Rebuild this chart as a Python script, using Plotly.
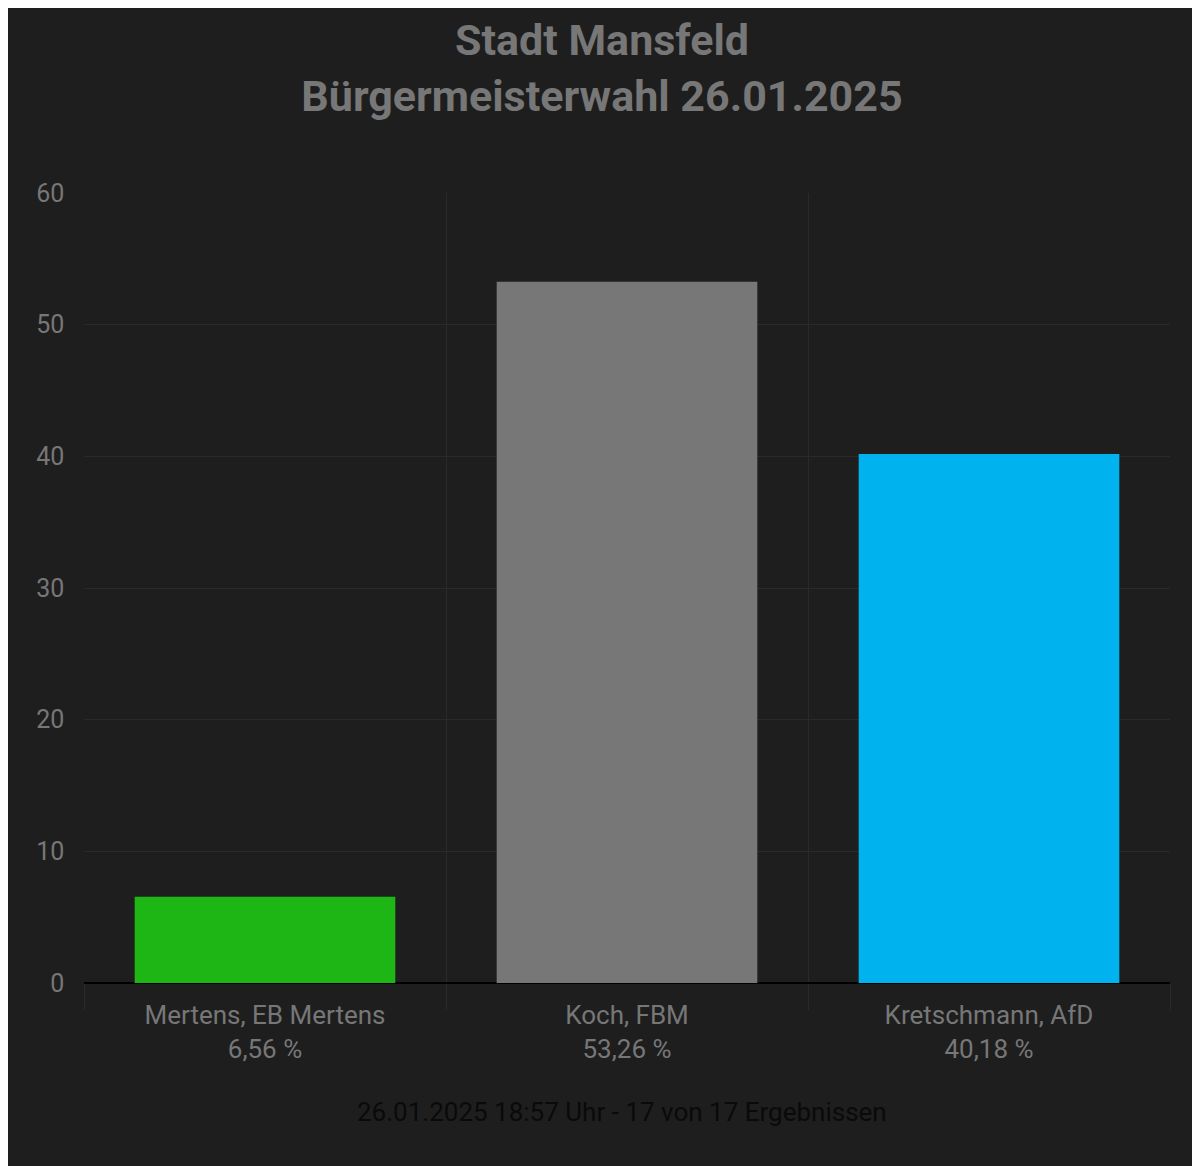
import plotly.graph_objects as go

candidates = ["Mertens, EB Mertens", "Koch, FBM", "Kretschmann, AfD"]
shares = [6.56, 53.26, 40.18]
colors = ["#1db614", "#777777", "#00b2ee"]

labels = [f"{c}<br>{str(v).replace('.', ',')} %" for c, v in zip(candidates, shares)]

fig = go.Figure(go.Bar(x=labels, y=shares, marker_color=colors, marker_line_width=0, width=0.72))

fig.update_layout(
    width=1200, height=1166,
    paper_bgcolor="#1e1e1e", plot_bgcolor="#1e1e1e",
    font=dict(family="Roboto", color="#777777", size=25),
    title=dict(text="<b>Stadt Mansfeld<br>Bürgermeisterwahl 26.01.2025</b>",
               x=0.495, xanchor="center", y=0.96, yanchor="top",
               font=dict(size=43, color="#777777")),
    margin=dict(l=76, r=38, t=185, b=191),
    showlegend=False,
)
fig.update_xaxes(tickson="boundaries", showgrid=True, gridcolor="#2a2a2a",
                 ticks="outside", ticklen=26, tickcolor="#2a2a2a",
                 ticklabelstandoff=14,
                 tickfont=dict(size=26, color="#777777"), showline=False)
fig.update_yaxes(range=[0, 60], dtick=10, gridcolor="#2a2a2a", zeroline=True,
                 zerolinecolor="#000000", zerolinewidth=2,
                 tickfont=dict(size=25, color="#777777"), ticksuffix="   ")
fig.add_annotation(text="26.01.2025 18:57 Uhr - 17 von 17 Ergebnissen",
                   xref="paper", yref="paper", x=0.495, y=-0.185, showarrow=False,
                   font=dict(size=26, color="#0a0a0a"))
fig.write_html("out.html")
